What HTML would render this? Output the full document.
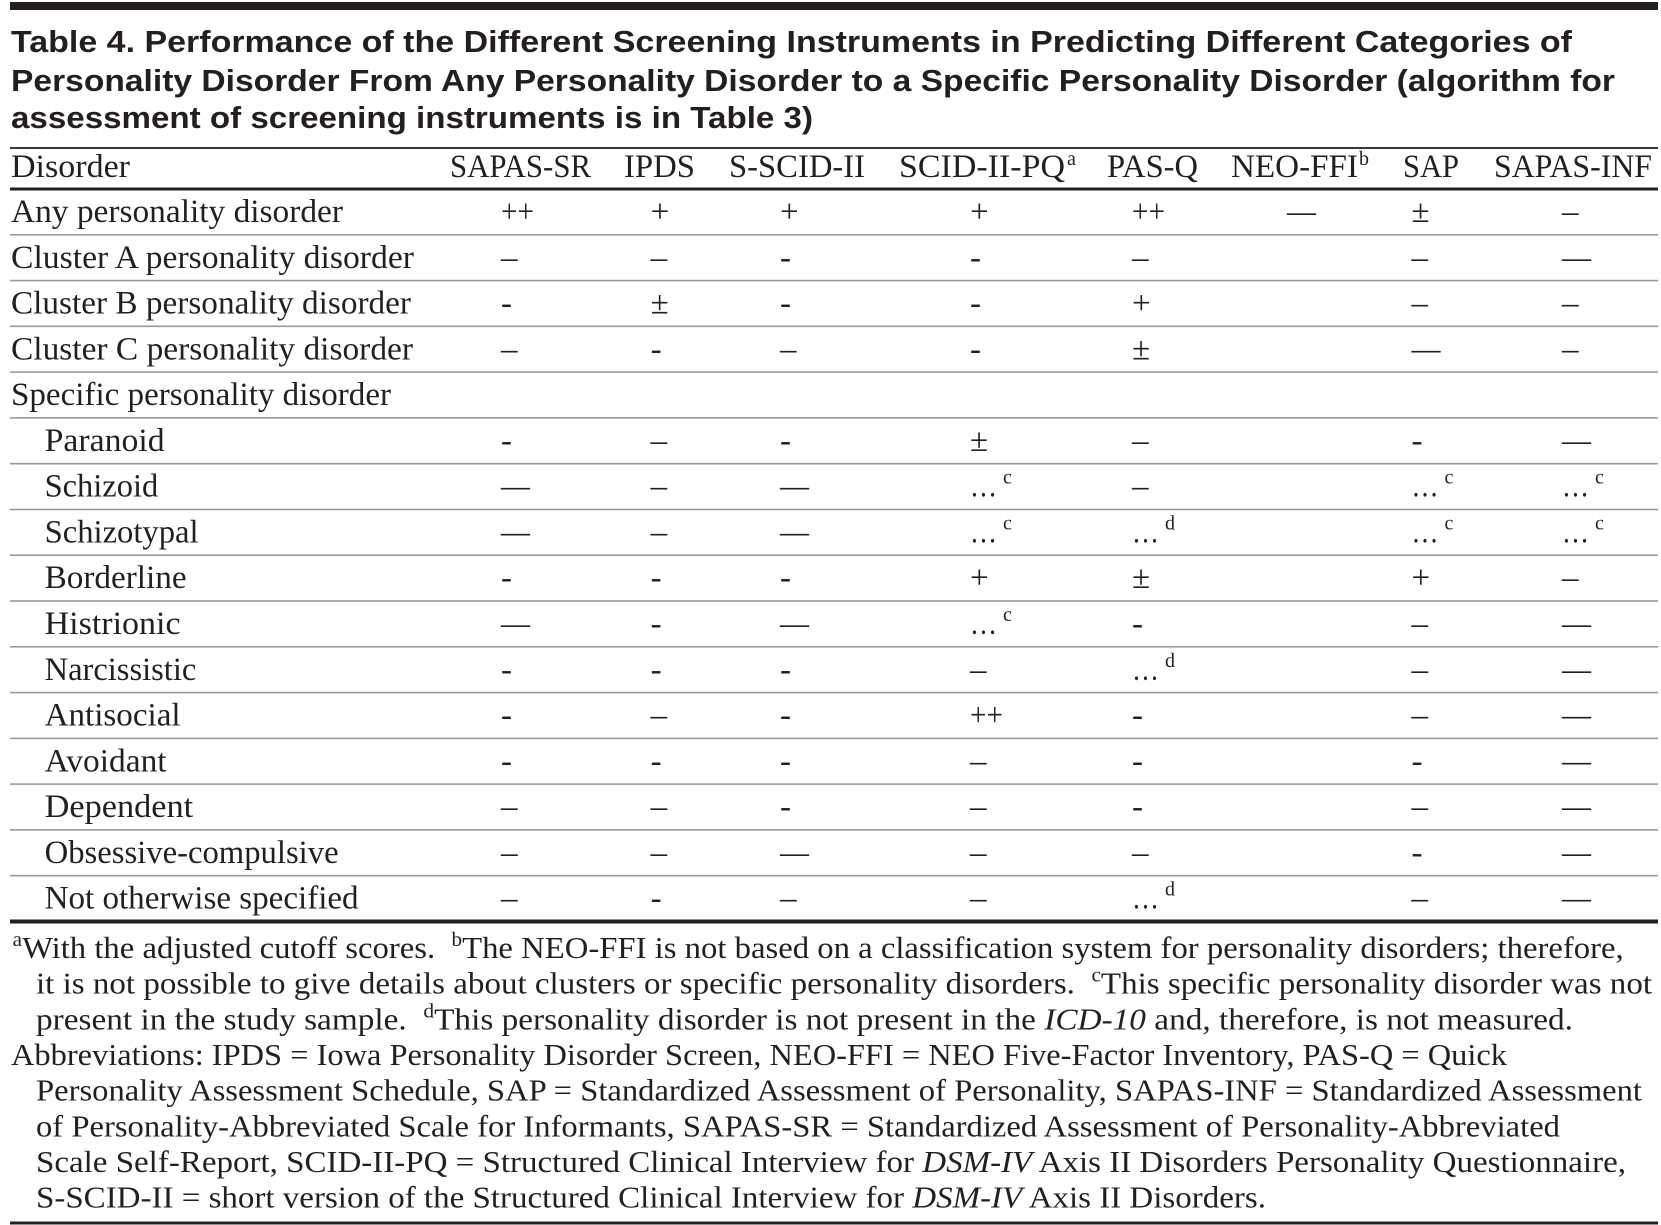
<!DOCTYPE html>
<html>
<head>
<meta charset="utf-8">
<style>
html,body{margin:0;padding:0;background:#fff;}
svg{display:block;}
.t{font-family:"Liberation Sans",Arial,sans-serif;font-weight:bold;font-size:31px;fill:#231f20;}
.c{font-family:"Liberation Serif","Times New Roman",serif;font-size:33px;fill:#231f20;}
.f{font-family:"Liberation Serif","Times New Roman",serif;font-size:31px;fill:#231f20;white-space:pre;}
.s{font-family:"Liberation Serif","Times New Roman",serif;font-size:20px;fill:#231f20;}
.i{font-style:italic;}
</style>
</head>
<body>
<svg width="1661" height="1225" viewBox="0 0 1661 1225" xmlns="http://www.w3.org/2000/svg">
<rect x="0" y="0" width="1661" height="1225" fill="#fff"/>
<!-- top bar -->
<rect x="10" y="2" width="1648" height="8" fill="#231f20"/>
<!-- title -->
<text class="t" x="11" y="52" textLength="1561" lengthAdjust="spacingAndGlyphs">Table 4. Performance of the Different Screening Instruments in Predicting Different Categories of</text>
<text class="t" x="11" y="91" textLength="1604" lengthAdjust="spacingAndGlyphs">Personality Disorder From Any Personality Disorder to a Specific Personality Disorder (algorithm for</text>
<text class="t" x="11" y="128" textLength="802" lengthAdjust="spacingAndGlyphs">assessment of screening instruments is in Table 3)</text>
<!-- rules -->
<rect x="10" y="147" width="1648" height="2" fill="#3a3a3a"/>
<rect x="10" y="187.5" width="1648" height="3" fill="#231f20"/>
<g fill="#999">
<rect x="10" y="234" width="1648" height="1.6"/>
<rect x="10" y="279.8" width="1648" height="1.6"/>
<rect x="10" y="325.5" width="1648" height="1.6"/>
<rect x="10" y="371.3" width="1648" height="1.6"/>
<rect x="10" y="417.1" width="1648" height="1.6"/>
<rect x="10" y="462.9" width="1648" height="1.6"/>
<rect x="10" y="508.7" width="1648" height="1.6"/>
<rect x="10" y="554.4" width="1648" height="1.6"/>
<rect x="10" y="600.2" width="1648" height="1.6"/>
<rect x="10" y="646" width="1648" height="1.6"/>
<rect x="10" y="691.8" width="1648" height="1.6"/>
<rect x="10" y="737.6" width="1648" height="1.6"/>
<rect x="10" y="783.3" width="1648" height="1.6"/>
<rect x="10" y="829.1" width="1648" height="1.6"/>
<rect x="10" y="874.9" width="1648" height="1.6"/>
</g>
<rect x="10" y="919.5" width="1648" height="4" fill="#231f20"/>
<rect x="10" y="1221.5" width="1648" height="3" fill="#231f20"/>

<!-- header -->
<text class="c" x="11" y="177" textLength="119" lengthAdjust="spacingAndGlyphs">Disorder</text>
<text class="c" x="450" y="177" textLength="141" lengthAdjust="spacingAndGlyphs">SAPAS-SR</text>
<text class="c" x="624" y="177" textLength="71" lengthAdjust="spacingAndGlyphs">IPDS</text>
<text class="c" x="729" y="177" textLength="136" lengthAdjust="spacingAndGlyphs">S-SCID-II</text>
<text class="c" x="899" y="177" textLength="166" lengthAdjust="spacingAndGlyphs">SCID-II-PQ</text>
<text class="s" x="1067" y="165">a</text>
<text class="c" x="1107" y="177" textLength="91" lengthAdjust="spacingAndGlyphs">PAS-Q</text>
<text class="c" x="1231" y="177" textLength="127" lengthAdjust="spacingAndGlyphs">NEO-FFI</text>
<text class="s" x="1359" y="165">b</text>
<text class="c" x="1403" y="177" textLength="56" lengthAdjust="spacingAndGlyphs">SAP</text>
<text class="c" x="1494" y="177" textLength="158" lengthAdjust="spacingAndGlyphs">SAPAS-INF</text>

<!-- row labels -->
<text class="c" x="11" y="222" textLength="332" lengthAdjust="spacingAndGlyphs">Any personality disorder</text>
<text class="c" x="11" y="267.8" textLength="403" lengthAdjust="spacingAndGlyphs">Cluster A personality disorder</text>
<text class="c" x="11" y="313.6" textLength="400" lengthAdjust="spacingAndGlyphs">Cluster B personality disorder</text>
<text class="c" x="11" y="359.3" textLength="402" lengthAdjust="spacingAndGlyphs">Cluster C personality disorder</text>
<text class="c" x="11" y="405.1" textLength="380" lengthAdjust="spacingAndGlyphs">Specific personality disorder</text>
<text class="c" x="44.6" y="450.9" textLength="120" lengthAdjust="spacingAndGlyphs">Paranoid</text>
<text class="c" x="44.6" y="496.7" textLength="113.6" lengthAdjust="spacingAndGlyphs">Schizoid</text>
<text class="c" x="44.6" y="542.5" textLength="154" lengthAdjust="spacingAndGlyphs">Schizotypal</text>
<text class="c" x="44.6" y="588.2" textLength="142" lengthAdjust="spacingAndGlyphs">Borderline</text>
<text class="c" x="44.6" y="634" textLength="136" lengthAdjust="spacingAndGlyphs">Histrionic</text>
<text class="c" x="44.6" y="679.8" textLength="151.7" lengthAdjust="spacingAndGlyphs">Narcissistic</text>
<text class="c" x="44.6" y="725.6" textLength="136" lengthAdjust="spacingAndGlyphs">Antisocial</text>
<text class="c" x="44.6" y="771.4" textLength="122" lengthAdjust="spacingAndGlyphs">Avoidant</text>
<text class="c" x="44.6" y="817.1" textLength="148.6" lengthAdjust="spacingAndGlyphs">Dependent</text>
<text class="c" x="44.6" y="862.9" textLength="294" lengthAdjust="spacingAndGlyphs">Obsessive-compulsive</text>
<text class="c" x="44.6" y="908.7" textLength="314" lengthAdjust="spacingAndGlyphs">Not otherwise specified</text>

<!-- data: columns x = 501, 650.6, 780, 970, 1132, 1287, 1411.5, 1562 -->
<!-- Row 1 -->
<text class="c" x="501" y="222" textLength="33" lengthAdjust="spacingAndGlyphs">++</text>
<text class="c" x="650.6" y="222">+</text>
<text class="c" x="780" y="222">+</text>
<text class="c" x="970" y="222">+</text>
<text class="c" x="1132" y="222" textLength="33" lengthAdjust="spacingAndGlyphs">++</text>
<text class="c" x="1287" y="222" textLength="29" lengthAdjust="spacingAndGlyphs">—</text>
<text class="c" x="1411.5" y="222">±</text>
<text class="c" x="1562" y="222">–</text>
<!-- Row 2 Cluster A -->
<text class="c" x="501" y="267.8">–</text>
<text class="c" x="650.6" y="267.8">–</text>
<text class="c" x="780" y="267.8">-</text>
<text class="c" x="970" y="267.8">-</text>
<text class="c" x="1132" y="267.8">–</text>
<text class="c" x="1411.5" y="267.8">–</text>
<text class="c" x="1562" y="267.8" textLength="29" lengthAdjust="spacingAndGlyphs">—</text>
<!-- Row 3 Cluster B -->
<text class="c" x="501" y="313.6">-</text>
<text class="c" x="650.6" y="313.6">±</text>
<text class="c" x="780" y="313.6">-</text>
<text class="c" x="970" y="313.6">-</text>
<text class="c" x="1132" y="313.6">+</text>
<text class="c" x="1411.5" y="313.6">–</text>
<text class="c" x="1562" y="313.6">–</text>
<!-- Row 4 Cluster C -->
<text class="c" x="501" y="359.3">–</text>
<text class="c" x="650.6" y="359.3">-</text>
<text class="c" x="780" y="359.3">–</text>
<text class="c" x="970" y="359.3">-</text>
<text class="c" x="1132" y="359.3">±</text>
<text class="c" x="1411.5" y="359.3" textLength="29" lengthAdjust="spacingAndGlyphs">—</text>
<text class="c" x="1562" y="359.3">–</text>
<!-- Row 6 Paranoid -->
<text class="c" x="501" y="450.9">-</text>
<text class="c" x="650.6" y="450.9">–</text>
<text class="c" x="780" y="450.9">-</text>
<text class="c" x="970" y="450.9">±</text>
<text class="c" x="1132" y="450.9">–</text>
<text class="c" x="1411.5" y="450.9">-</text>
<text class="c" x="1562" y="450.9" textLength="29" lengthAdjust="spacingAndGlyphs">—</text>
<!-- Row 7 Schizoid -->
<text class="c" x="501" y="496.7" textLength="29" lengthAdjust="spacingAndGlyphs">—</text>
<text class="c" x="650.6" y="496.7">–</text>
<text class="c" x="780" y="496.7" textLength="29" lengthAdjust="spacingAndGlyphs">—</text>
<text class="c" x="970" y="496.7" textLength="27" lengthAdjust="spacingAndGlyphs">…</text>
<text class="s" x="1003" y="483.7">c</text>
<text class="c" x="1132" y="496.7">–</text>
<text class="c" x="1411.5" y="496.7" textLength="27" lengthAdjust="spacingAndGlyphs">…</text>
<text class="s" x="1444.5" y="483.7">c</text>
<text class="c" x="1562" y="496.7" textLength="27" lengthAdjust="spacingAndGlyphs">…</text>
<text class="s" x="1595" y="483.7">c</text>
<!-- Row 8 Schizotypal -->
<text class="c" x="501" y="542.5" textLength="29" lengthAdjust="spacingAndGlyphs">—</text>
<text class="c" x="650.6" y="542.5">–</text>
<text class="c" x="780" y="542.5" textLength="29" lengthAdjust="spacingAndGlyphs">—</text>
<text class="c" x="970" y="542.5" textLength="27" lengthAdjust="spacingAndGlyphs">…</text>
<text class="s" x="1003" y="529.5">c</text>
<text class="c" x="1132" y="542.5" textLength="27" lengthAdjust="spacingAndGlyphs">…</text>
<text class="s" x="1165" y="529.5">d</text>
<text class="c" x="1411.5" y="542.5" textLength="27" lengthAdjust="spacingAndGlyphs">…</text>
<text class="s" x="1444.5" y="529.5">c</text>
<text class="c" x="1562" y="542.5" textLength="27" lengthAdjust="spacingAndGlyphs">…</text>
<text class="s" x="1595" y="529.5">c</text>
<!-- Row 9 Borderline -->
<text class="c" x="501" y="588.2">-</text>
<text class="c" x="650.6" y="588.2">-</text>
<text class="c" x="780" y="588.2">-</text>
<text class="c" x="970" y="588.2">+</text>
<text class="c" x="1132" y="588.2">±</text>
<text class="c" x="1411.5" y="588.2">+</text>
<text class="c" x="1562" y="588.2">–</text>
<!-- Row 10 Histrionic -->
<text class="c" x="501" y="634" textLength="29" lengthAdjust="spacingAndGlyphs">—</text>
<text class="c" x="650.6" y="634">-</text>
<text class="c" x="780" y="634" textLength="29" lengthAdjust="spacingAndGlyphs">—</text>
<text class="c" x="970" y="634" textLength="27" lengthAdjust="spacingAndGlyphs">…</text>
<text class="s" x="1003" y="621">c</text>
<text class="c" x="1132" y="634">-</text>
<text class="c" x="1411.5" y="634">–</text>
<text class="c" x="1562" y="634" textLength="29" lengthAdjust="spacingAndGlyphs">—</text>
<!-- Row 11 Narcissistic -->
<text class="c" x="501" y="679.8">-</text>
<text class="c" x="650.6" y="679.8">-</text>
<text class="c" x="780" y="679.8">-</text>
<text class="c" x="970" y="679.8">–</text>
<text class="c" x="1132" y="679.8" textLength="27" lengthAdjust="spacingAndGlyphs">…</text>
<text class="s" x="1165" y="666.8">d</text>
<text class="c" x="1411.5" y="679.8">–</text>
<text class="c" x="1562" y="679.8" textLength="29" lengthAdjust="spacingAndGlyphs">—</text>
<!-- Row 12 Antisocial -->
<text class="c" x="501" y="725.6">-</text>
<text class="c" x="650.6" y="725.6">–</text>
<text class="c" x="780" y="725.6">-</text>
<text class="c" x="970" y="725.6" textLength="33" lengthAdjust="spacingAndGlyphs">++</text>
<text class="c" x="1132" y="725.6">-</text>
<text class="c" x="1411.5" y="725.6">–</text>
<text class="c" x="1562" y="725.6" textLength="29" lengthAdjust="spacingAndGlyphs">—</text>
<!-- Row 13 Avoidant -->
<text class="c" x="501" y="771.4">-</text>
<text class="c" x="650.6" y="771.4">-</text>
<text class="c" x="780" y="771.4">-</text>
<text class="c" x="970" y="771.4">–</text>
<text class="c" x="1132" y="771.4">-</text>
<text class="c" x="1411.5" y="771.4">-</text>
<text class="c" x="1562" y="771.4" textLength="29" lengthAdjust="spacingAndGlyphs">—</text>
<!-- Row 14 Dependent -->
<text class="c" x="501" y="817.1">–</text>
<text class="c" x="650.6" y="817.1">–</text>
<text class="c" x="780" y="817.1">-</text>
<text class="c" x="970" y="817.1">–</text>
<text class="c" x="1132" y="817.1">-</text>
<text class="c" x="1411.5" y="817.1">–</text>
<text class="c" x="1562" y="817.1" textLength="29" lengthAdjust="spacingAndGlyphs">—</text>
<!-- Row 15 Obsessive-compulsive -->
<text class="c" x="501" y="862.9">–</text>
<text class="c" x="650.6" y="862.9">–</text>
<text class="c" x="780" y="862.9" textLength="29" lengthAdjust="spacingAndGlyphs">—</text>
<text class="c" x="970" y="862.9">–</text>
<text class="c" x="1132" y="862.9">–</text>
<text class="c" x="1411.5" y="862.9">-</text>
<text class="c" x="1562" y="862.9" textLength="29" lengthAdjust="spacingAndGlyphs">—</text>
<!-- Row 16 NOS -->
<text class="c" x="501" y="908.7">–</text>
<text class="c" x="650.6" y="908.7">-</text>
<text class="c" x="780" y="908.7">–</text>
<text class="c" x="970" y="908.7">–</text>
<text class="c" x="1132" y="908.7" textLength="27" lengthAdjust="spacingAndGlyphs">…</text>
<text class="s" x="1165" y="895.7">d</text>
<text class="c" x="1411.5" y="908.7">–</text>
<text class="c" x="1562" y="908.7" textLength="29" lengthAdjust="spacingAndGlyphs">—</text>

<!-- footnotes -->
<text class="f" x="12.7" y="958" textLength="1611" lengthAdjust="spacingAndGlyphs"><tspan font-size="20" dy="-12">a</tspan><tspan dy="12">With the adjusted cutoff scores.  </tspan><tspan font-size="20" dy="-12">b</tspan><tspan dy="12">The NEO-FFI is not based on a classification system for personality disorders; therefore,</tspan></text>
<text class="f" x="36" y="993.7" textLength="1616" lengthAdjust="spacingAndGlyphs">it is not possible to give details about clusters or specific personality disorders.  <tspan font-size="20" dy="-12">c</tspan><tspan dy="12">This specific personality disorder was not</tspan></text>
<text class="f" x="36" y="1029.4" textLength="1537" lengthAdjust="spacingAndGlyphs">present in the study sample.  <tspan font-size="20" dy="-12">d</tspan><tspan dy="12">This personality disorder is not present in the </tspan><tspan class="i">ICD-10</tspan> and, therefore, is not measured.</text>
<text class="f" x="11" y="1065" textLength="1496" lengthAdjust="spacingAndGlyphs">Abbreviations: IPDS = Iowa Personality Disorder Screen, NEO-FFI = NEO Five-Factor Inventory, PAS-Q = Quick</text>
<text class="f" x="36" y="1100.7" textLength="1606" lengthAdjust="spacingAndGlyphs">Personality Assessment Schedule, SAP = Standardized Assessment of Personality, SAPAS-INF = Standardized Assessment</text>
<text class="f" x="36" y="1136.4" textLength="1524" lengthAdjust="spacingAndGlyphs">of Personality-Abbreviated Scale for Informants, SAPAS-SR = Standardized Assessment of Personality-Abbreviated</text>
<text class="f" x="36" y="1172" textLength="1590" lengthAdjust="spacingAndGlyphs">Scale Self-Report, SCID-II-PQ = Structured Clinical Interview for <tspan class="i">DSM-IV</tspan> Axis II Disorders Personality Questionnaire,</text>
<text class="f" x="36" y="1207.7" textLength="1230" lengthAdjust="spacingAndGlyphs">S-SCID-II = short version of the Structured Clinical Interview for <tspan class="i">DSM-IV</tspan> Axis II Disorders.</text>
</svg>
</body>
</html>
